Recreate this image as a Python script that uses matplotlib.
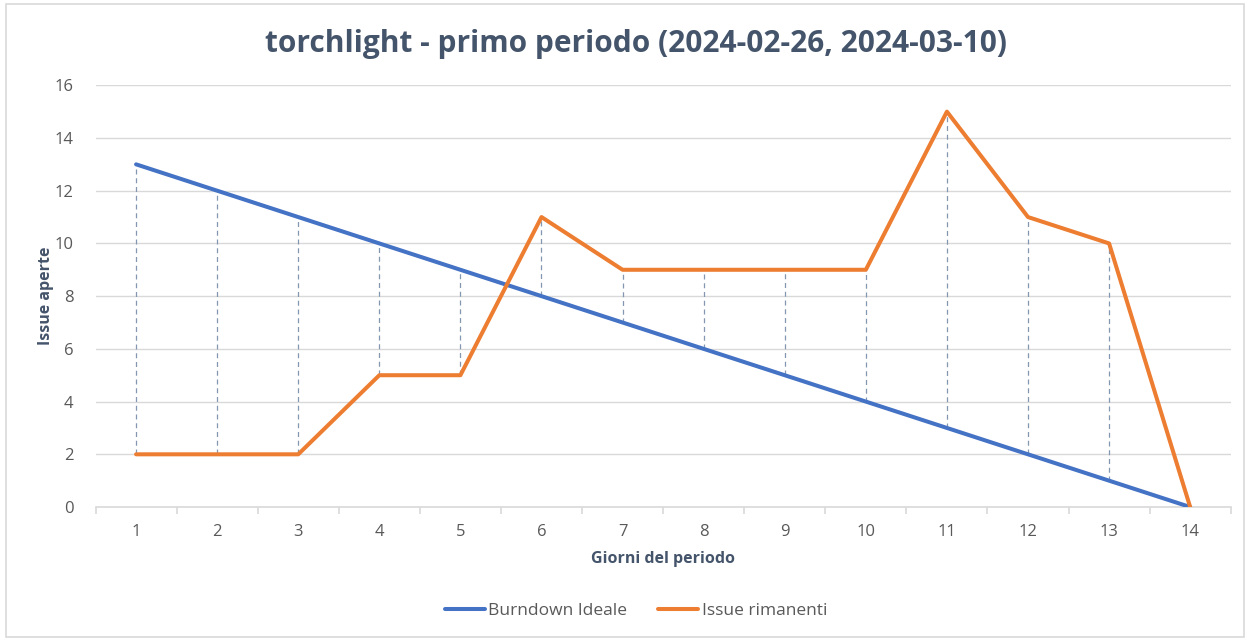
import matplotlib.pyplot as plt
from matplotlib.patches import Rectangle

# dati del grafico
giorni = list(range(1, 15))
burndown_ideale = [13, 12, 11, 10, 9, 8, 7, 6, 5, 4, 3, 2, 1, 0]
issue_rimanenti = [2, 2, 2, 5, 5, 11, 9, 9, 9, 9, 15, 11, 10, 0]
y_ticks = [0, 2, 4, 6, 8, 10, 12, 14, 16]

BLU = '#4472C4'
ARANCIO = '#ED7D31'
TESTO = '#44546A'
GRIGIO = '#D9D9D9'

plt.rcParams['font.family'] = ['Open Sans', 'DejaVu Sans']

fig = plt.figure(figsize=(12.52, 6.41), dpi=100)
ax = fig.add_axes([0.0763, 0.209, 0.9067, 0.658])

# bordo esterno del grafico
fig.patches.append(Rectangle((0.005, 0.006), 0.989, 0.988, transform=fig.transFigure,
                             fill=False, edgecolor=GRIGIO, linewidth=1.2))

# linee max-min tratteggiate tra le due serie
lo = [min(a, b) for a, b in zip(burndown_ideale, issue_rimanenti)]
hi = [max(a, b) for a, b in zip(burndown_ideale, issue_rimanenti)]
ax.vlines(giorni, lo, hi, colors='#8497B0', linestyles=(0, (4, 3)), linewidth=0.9, zorder=2)

ax.plot(giorni, burndown_ideale, color=BLU, linewidth=2.9, label='Burndown Ideale',
        solid_capstyle='round', zorder=3)
ax.plot(giorni, issue_rimanenti, color=ARANCIO, linewidth=2.9, label='Issue rimanenti',
        solid_capstyle='round', zorder=4)

ax.set_xlim(0.5, 14.5)
ax.set_ylim(0, 16)
ax.set_yticks(y_ticks)
ax.set_xticks(giorni)
ax.set_xticks([g + 0.5 for g in range(0, 15)], minor=True)
ax.grid(axis='y', color=GRIGIO, linewidth=1)
ax.set_axisbelow(True)

for s in ['top', 'right', 'left']:
    ax.spines[s].set_visible(False)
ax.spines['bottom'].set_color(GRIGIO)
ax.spines['bottom'].set_linewidth(1.2)
ax.tick_params(axis='x', which='major', length=0, pad=12, labelsize=12, labelcolor='#595959')
ax.tick_params(axis='x', which='minor', length=5, color=GRIGIO, width=1.2)
ax.tick_params(axis='y', length=0, pad=16, labelsize=12, labelcolor='#595959')

ax.set_xlabel('Giorni del periodo', fontsize=11.5, fontweight='bold', color=TESTO, labelpad=8)
ax.set_ylabel('Issue aperte', fontsize=11.5, fontweight='bold', color=TESTO, labelpad=0)

fig.text(0.508, 0.932, 'torchlight - primo periodo (2024-02-26, 2024-03-10)',
         ha='center', va='center', fontsize=21.5, fontweight='bold', color=TESTO)

leg = fig.legend(loc='center', bbox_to_anchor=(0.508, 0.047), ncol=2, frameon=False,
                 fontsize=12.5, handlelength=2.3, handletextpad=0.2, columnspacing=1.8)
for t in leg.get_texts():
    t.set_color('#595959')

fig.savefig('out.png', dpi=100)
